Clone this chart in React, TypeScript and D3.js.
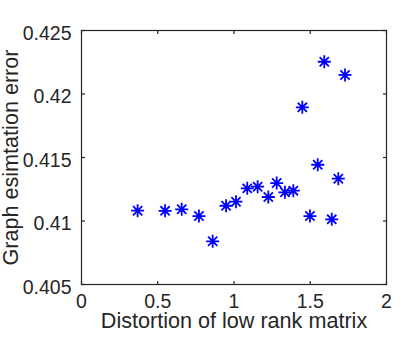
import React, { useEffect, useRef } from 'react';
import * as d3 from 'd3';

// distortion values (x) and graph estimation error (y)
const distortion = [0.368, 0.548, 0.657, 0.770, 0.860, 0.948, 1.013, 1.087, 1.155, 1.225,
  1.280, 1.334, 1.389, 1.448, 1.498, 1.549, 1.592, 1.641, 1.684, 1.728];
const estError = [0.41081, 0.41080, 0.41092, 0.41039, 0.40840, 0.41120, 0.41152, 0.41257, 0.41270, 0.41189,
  0.41299, 0.41226, 0.41239, 0.41895, 0.41039, 0.41443, 0.42254, 0.41013, 0.41333, 0.42150];

const xTicks = [0, 0.5, 1, 1.5, 2];
const yTicks = [0.405, 0.41, 0.415, 0.42, 0.425];

export default function App() {
  const svgRef = useRef<SVGSVGElement | null>(null);

  useEffect(() => {
    if (!svgRef.current) return;
    const width = 407, height = 339;
    const margin = { top: 30.5, right: 20.5, bottom: 54.5, left: 81.5 };
    const iw = width - margin.left - margin.right;
    const ih = height - margin.top - margin.bottom;
    const axisColor = '#262626';
    const font = '"Liberation Sans", Arial, Helvetica, sans-serif';

    const root = d3.select(svgRef.current);
    root.selectAll('*').remove();
    root.attr('width', width).attr('height', height);

    const x = d3.scaleLinear().domain([0, 2]).range([0, iw]);
    const y = d3.scaleLinear().domain([0.405, 0.425]).range([ih, 0]);

    const g = root.append('g').attr('transform', `translate(${margin.left},${margin.top})`);

    // box
    g.append('rect')
      .attr('width', iw).attr('height', ih)
      .attr('fill', 'none').attr('stroke', axisColor).attr('stroke-width', 1.2);

    const tickLen = 3.5;
    // ticks point inward on all four sides
    xTicks.forEach(t => {
      g.append('line').attr('x1', x(t)).attr('x2', x(t)).attr('y1', ih).attr('y2', ih - tickLen)
        .attr('stroke', axisColor).attr('stroke-width', 1.2);
      g.append('line').attr('x1', x(t)).attr('x2', x(t)).attr('y1', 0).attr('y2', tickLen)
        .attr('stroke', axisColor).attr('stroke-width', 1.2);
    });
    yTicks.forEach(t => {
      g.append('line').attr('x1', 0).attr('x2', tickLen).attr('y1', y(t)).attr('y2', y(t))
        .attr('stroke', axisColor).attr('stroke-width', 1.2);
      g.append('line').attr('x1', iw).attr('x2', iw - tickLen).attr('y1', y(t)).attr('y2', y(t))
        .attr('stroke', axisColor).attr('stroke-width', 1.2);
    });

    // tick labels
    g.selectAll('.xlab').data(xTicks).enter().append('text')
      .attr('x', d => x(d)).attr('y', ih + 23.5)
      .attr('text-anchor', 'middle')
      .style('font-family', font).style('font-size', '19.5px').style('fill', axisColor)
      .text(d => d3.format('~g')(d));

    g.selectAll('.ylab').data(yTicks).enter().append('text')
      .attr('x', -10).attr('y', d => y(d) + 9)
      .attr('text-anchor', 'end')
      .style('font-family', font).style('font-size', '19.5px').style('fill', axisColor)
      .text(d => d3.format('~g')(d));

    // axis titles
    root.append('text')
      .attr('x', margin.left + iw / 2).attr('y', 328.3)
      .attr('text-anchor', 'middle')
      .style('font-family', font).style('font-size', '21.6px').style('fill', axisColor)
      .text('Distortion of low rank matrix');

    root.append('text')
      .attr('transform', `translate(17.5,${margin.top + ih / 2}) rotate(-90)`)
      .attr('text-anchor', 'middle')
      .style('font-family', font).style('font-size', '21.6px').style('fill', axisColor)
      .text('Graph esimtation error');

    // asterisk markers (+ and x combined, like MATLAB '*')
    const r = 6.5;
    const d45 = r * Math.SQRT1_2;
    const star = `M${-r},0L${r},0M0,${-r}L0,${r}M${-d45},${-d45}L${d45},${d45}M${-d45},${d45}L${d45},${-d45}`;
    g.selectAll('.pt').data(distortion).enter().append('path')
      .attr('transform', (d, i) => `translate(${x(d)},${y(estError[i])})`)
      .attr('d', star)
      .attr('fill', 'none').attr('stroke', '#0000ff').attr('stroke-width', 1.8);
  }, []);

  return <svg ref={svgRef} style={{ position: 'absolute', left: 0, top: 0 }}></svg>;
}
